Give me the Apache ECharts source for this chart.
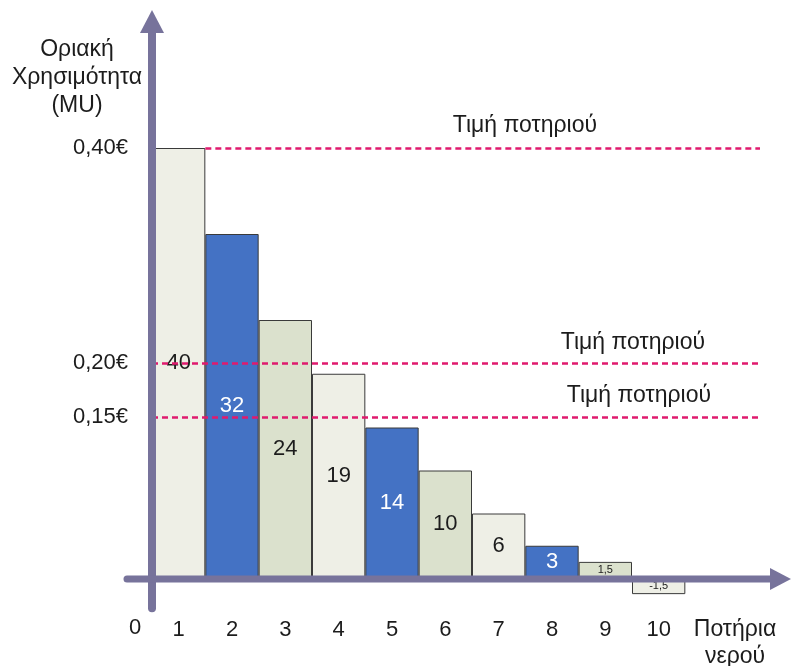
<!DOCTYPE html>
<html>
<head>
<meta charset="utf-8">
<style>
  html, body { margin: 0; padding: 0; background: #ffffff; }
  #chart { width: 795px; height: 666px; }
</style>
<script src="https://cdn.jsdelivr.net/npm/echarts@6/dist/echarts.min.js"></script>
</head>
<body>
<div id="chart"></div>
<script>
// Marginal utility of each glass of water, in euro cents
const glasses = [1, 2, 3, 4, 5, 6, 7, 8, 9, 10];
const marginalUtility = [40, 32, 24, 19, 14, 10, 6, 3, 1.5, -1.5];

// Price levels of one glass, in euro cents
const glassPrices = [40, 20, 15];
const priceLabel = 'Τιμή ποτηριού';

// Axis ticks
const xTickValues = glasses;
const yTickValues = [15, 20, 40];
const yTickLabels = ['0,15€', '0,20€', '0,40€'];

const FONT = '"Liberation Sans", Arial, sans-serif';
const TEXT_COLOR = '#1c1c1c';
const AXIS_COLOR = '#77739b';
const PRICE_COLOR = '#e01a6e';
const barPalette = ['#eeefe6', '#4472c4', '#dbe1cd'];
const barLabelPalette = ['#1c1c1c', '#ffffff', '#1c1c1c'];

const X_MIN = 0.5, X_MAX = 11.9;
const Y_MIN = -3, Y_MAX = 52;

const chart = echarts.init(document.getElementById('chart'), null, { renderer: 'canvas' });

const barData = glasses.map((g, i) => ({
  value: [g, marginalUtility[i]],
  itemStyle: { color: barPalette[i % barPalette.length] },
  label: {
    color: barLabelPalette[i % barLabelPalette.length],
    fontSize: Math.abs(marginalUtility[i]) < 2 ? 11 : 22
  }
}));

// Price lines: the top one starts where the first bar ends
const priceLabelDistance = [[163, 11], [55, 9], [49, 10]];
const priceLines = glassPrices.map((p, i) => [
  {
    xAxis: i === 0 ? glasses[0] + 0.5 : X_MIN,
    yAxis: p,
    label: { distance: priceLabelDistance[i] }
  },
  { xAxis: X_MAX, yAxis: p }
]);

chart.setOption({
  animation: false,
  grid: {
    left: 152, right: 35, top: 19, bottom: 55.75,
    containLabel: false,
    outerBoundsMode: 'none'
  },
  xAxis: {
    type: 'value',
    min: X_MIN,
    max: X_MAX,
    position: 'bottom',
    axisLine: { show: true, onZero: false, lineStyle: { opacity: 0 } },
    axisTick: { show: false },
    splitLine: { show: false },
    axisLabel: {
      customValues: xTickValues,
      margin: 9,
      fontSize: 22,
      color: TEXT_COLOR,
      fontFamily: FONT
    },
    name: 'Ποτήρια\nνερού',
    nameLocation: 'end',
    nameGap: -25,
    nameTextStyle: {
      align: 'center',
      verticalAlign: 'top',
      fontSize: 23,
      lineHeight: 27,
      padding: [6, 0, 0, 0],
      color: TEXT_COLOR,
      fontFamily: FONT
    }
  },
  yAxis: {
    type: 'value',
    min: Y_MIN,
    max: Y_MAX,
    axisLine: { show: true, lineStyle: { opacity: 0 } },
    axisTick: { show: false },
    splitLine: { show: false },
    axisLabel: {
      customValues: yTickValues,
      formatter: v => yTickLabels[yTickValues.indexOf(v)],
      margin: 24,
      fontSize: 22,
      color: TEXT_COLOR,
      fontFamily: FONT
    },
    name: 'Οριακή\nΧρησιμότητα\n(MU)',
    nameLocation: 'end',
    nameGap: -101,
    nameTextStyle: {
      align: 'center',
      verticalAlign: 'bottom',
      fontSize: 23,
      lineHeight: 28,
      padding: [0, 150, 0, 0],
      color: TEXT_COLOR,
      fontFamily: FONT
    }
  },
  series: [{
    type: 'bar',
    barWidth: '100%',
    clip: false,
    data: barData,
    itemStyle: { borderColor: '#3a3a3a', borderWidth: 1 },
    label: {
      show: true,
      position: 'inside',
      fontFamily: FONT,
      formatter: p => String(p.value[1]).replace('.', ',')
    },
    emphasis: { disabled: true },
    markLine: {
      silent: true,
      symbol: 'none',
      lineStyle: { color: PRICE_COLOR, type: [6, 4], width: 2.5 },
      label: {
        show: true,
        formatter: priceLabel,
        position: 'insideEndTop',
        color: TEXT_COLOR,
        fontSize: 23,
        fontFamily: FONT
      },
      emphasis: { disabled: true },
      data: priceLines
    }
  }]
});

// Axis arrows, drawn from the grid's own origin
const [ox, oy] = chart.convertToPixel({ gridIndex: 0 }, [X_MIN, 0]);
const yTop = chart.convertToPixel({ gridIndex: 0 }, [X_MIN, Y_MAX])[1];
const yBottom = chart.convertToPixel({ gridIndex: 0 }, [X_MIN, Y_MIN])[1];
const xEnd = chart.convertToPixel({ gridIndex: 0 }, [X_MAX, 0])[0];
const ax = oy + 1;

chart.setOption({
  graphic: [
    {
      type: 'line', z: 100, silent: true,
      shape: { x1: ox, y1: yBottom - 2, x2: ox, y2: yTop + 14 },
      style: { stroke: AXIS_COLOR, lineWidth: 8, lineCap: 'round' }
    },
    {
      type: 'polygon', z: 100, silent: true,
      shape: { points: [[ox - 12, yTop + 14], [ox + 12, yTop + 14], [ox, yTop - 9]] },
      style: { fill: AXIS_COLOR }
    },
    {
      type: 'line', z: 100, silent: true,
      shape: { x1: ox - 25, y1: ax, x2: xEnd + 12, y2: ax },
      style: { stroke: AXIS_COLOR, lineWidth: 7, lineCap: 'round' }
    },
    {
      type: 'polygon', z: 100, silent: true,
      shape: { points: [[xEnd + 10, ax - 11], [xEnd + 10, ax + 11], [xEnd + 31, ax]] },
      style: { fill: AXIS_COLOR }
    },
    {
      type: 'text', z: 100, silent: true,
      x: ox - 17, y: oy + 50,
      style: {
        text: '0', fill: TEXT_COLOR, fontSize: 22, fontFamily: FONT,
        align: 'center', verticalAlign: 'middle'
      }
    }
  ]
});
</script>
</body>
</html>
